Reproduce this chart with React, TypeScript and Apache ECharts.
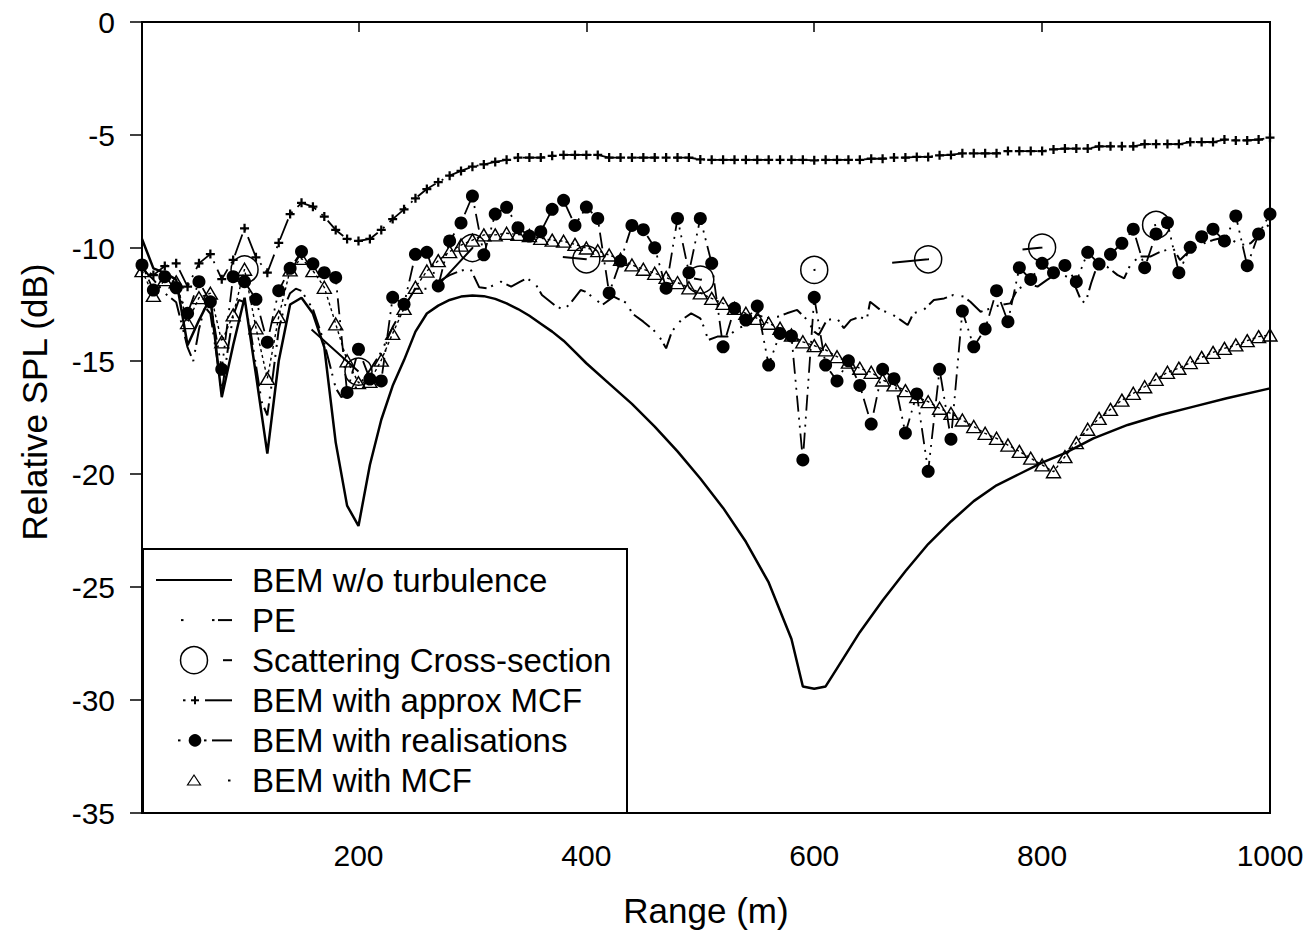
import React, { useEffect, useRef } from "react";
import * as echarts from "echarts";

const FONT = "'Liberation Sans', Arial, Helvetica, sans-serif";

// range values (m) at which the BEM series were sampled
const range10 = [
  10, 20, 30, 40, 50, 60, 70, 80, 90, 100,
  110, 120, 130, 140, 150, 160, 170, 180, 190, 200,
  210, 220, 230, 240, 250, 260, 270, 280, 290, 300,
  310, 320, 330, 340, 350, 360, 370, 380, 390, 400,
  410, 420, 430, 440, 450, 460, 470, 480, 490, 500,
  510, 520, 530, 540, 550, 560, 570, 580, 590, 600,
  610, 620, 630, 640, 650, 660, 670, 680, 690, 700,
  710, 720, 730, 740, 750, 760, 770, 780, 790, 800,
  810, 820, 830, 840, 850, 860, 870, 880, 890, 900,
  910, 920, 930, 940, 950, 960, 970, 980, 990, 1000,
];

const realisations = [
  -10.75, -11.86, -11.27, -11.76, -12.89, -11.49, -12.38, -15.37, -11.27, -11.49,
  -12.27, -14.17, -11.89, -10.9, -10.16, -10.7, -11.09, -11.3, -16.39, -14.48,
  -15.8, -15.88, -12.18, -12.49, -10.28, -10.19, -11.68, -9.69, -8.89, -7.7,
  -10.3, -8.5, -8.2, -9.1, -9.47, -9.28, -8.29, -7.89, -9.0, -8.19,
  -8.69, -11.99, -10.58, -9.0, -9.19, -9.99, -11.78, -8.69, -11.09, -8.69,
  -10.68, -14.37, -12.67, -13.19, -12.57, -15.18, -13.78, -13.89, -19.38, -12.18,
  -15.18, -15.88, -14.99, -16.08, -17.79, -15.37, -15.78, -18.19, -16.46, -19.88,
  -15.37, -18.46, -12.79, -14.37, -13.58, -11.89, -13.26, -10.87, -11.39, -10.68,
  -11.09, -10.77, -11.49, -10.19, -10.71, -10.28, -9.79, -9.17, -10.87, -9.38,
  -8.88, -11.09, -9.97, -9.5, -9.17, -9.69, -8.58, -10.78, -9.38, -8.5,
];

const withMcf = [
  -11.0, -12.1, -11.4, -11.5, -13.3, -12.2, -12.0, -14.15, -12.96, -10.94,
  -13.53, -15.77, -13.04, -10.97, -10.46, -11.0, -11.74, -13.36, -14.99, -15.96,
  -15.9, -14.96, -13.78, -12.67, -11.74, -11.02, -10.56, -10.16, -9.87, -9.65,
  -9.42, -9.42, -9.35, -9.4, -9.45, -9.57, -9.65, -9.7, -9.84, -10.0,
  -10.12, -10.31, -10.5, -10.75, -10.94, -11.12, -11.3, -11.53, -11.76, -11.99,
  -12.23, -12.45, -12.67, -12.89, -13.11, -13.33, -13.55, -13.85, -14.15, -14.32,
  -14.51, -14.81, -15.05, -15.32, -15.5, -15.84, -16.06, -16.31, -16.58, -16.8,
  -17.09, -17.32, -17.61, -17.9, -18.2, -18.42, -18.72, -19.0, -19.3, -19.6,
  -19.9, -19.23, -18.61, -18.02, -17.54, -17.14, -16.73, -16.43, -16.14, -15.81,
  -15.5, -15.32, -15.07, -14.84, -14.62, -14.44, -14.29, -14.1, -13.92, -13.85,
];

const approxMcf = [
  -10.9, -11.2, -10.8, -10.68, -11.71, -10.68, -10.27, -11.38, -10.53, -9.13,
  -10.41, -11.09, -9.77, -8.5, -8.0, -8.17, -8.61, -9.2, -9.6, -9.69,
  -9.6, -9.2, -8.72, -8.29, -7.8, -7.39, -7.09, -6.8, -6.59, -6.4,
  -6.3, -6.19, -6.1, -6.0, -6.0, -6.0, -5.92, -5.88, -5.88, -5.88,
  -5.88, -6.0, -6.0, -6.0, -6.0, -6.0, -6.0, -6.0, -6.0, -6.08,
  -6.1, -6.1, -6.1, -6.1, -6.1, -6.1, -6.1, -6.1, -6.1, -6.12,
  -6.1, -6.1, -6.1, -6.1, -6.05, -6.05, -6.0, -6.0, -5.97, -5.97,
  -5.9, -5.88, -5.81, -5.81, -5.81, -5.81, -5.71, -5.71, -5.71, -5.71,
  -5.64, -5.6, -5.6, -5.6, -5.5, -5.5, -5.5, -5.5, -5.4, -5.4,
  -5.4, -5.4, -5.31, -5.31, -5.31, -5.2, -5.24, -5.24, -5.2, -5.12,
];

const scatterRange = [100, 200, 300, 400, 500, 600, 700, 800, 900];
const scatterSpl = [-10.95, -15.47, -10.0, -10.5, -11.4, -10.97, -10.5, -9.98, -8.98];

const bemRange = [
  10, 20, 30, 40, 50, 60, 70, 80, 90, 100, 110, 120, 130, 140, 150, 160, 170, 180, 190, 200,
  210, 220, 230, 240, 250, 260, 270, 280, 290, 300, 310, 320, 330, 340, 350, 360, 370, 380, 390, 400,
  420, 440, 460, 480, 500, 520, 540, 560, 580, 590, 600, 610, 620, 640, 660, 680, 700, 720, 740, 760,
  780, 800, 820, 845, 875, 904, 933, 962, 1000,
];
const bemSpl = [
  -9.6, -10.9, -11.1, -11.4, -14.3, -13.2, -12.2, -16.6, -14.3, -12.2, -15.6, -19.1, -15.0, -12.5, -12.2, -12.9, -14.4, -18.6, -21.4, -22.3,
  -19.6, -17.6, -16.1, -14.96, -13.7, -12.9, -12.55, -12.3, -12.15, -12.1, -12.13, -12.25, -12.45, -12.7, -13.0, -13.35, -13.7, -14.1, -14.6, -15.1,
  -16.0, -16.9, -17.9, -19.0, -20.2, -21.5, -23.0, -24.8, -27.3, -29.4, -29.5, -29.4, -28.6, -27.0, -25.6, -24.3, -23.1, -22.1, -21.2, -20.5,
  -20.0, -19.5, -19.08, -18.42, -17.83, -17.39, -17.02, -16.65, -16.21,
];

const peRange = [
  10, 20, 30, 40, 50, 55, 60, 65, 70, 75, 80, 85, 90, 95, 100, 105, 110, 115, 120, 125,
  130, 135, 140, 145, 150, 160, 170, 180, 185, 190, 200, 210, 220, 230, 240, 250, 260, 270, 280, 290,
  298, 306, 313, 325, 334, 342, 348, 356, 361, 372, 380, 386, 395, 399, 407, 414, 424, 436, 440, 450,
  459, 465, 470, 475, 483, 492, 500, 503, 507, 515, 524, 533, 541, 550, 558, 568, 576, 585, 594, 600,
  604, 611, 620, 626, 632, 640, 646, 649, 658, 667, 676, 682, 687, 696, 705, 714, 722, 731, 737, 746,
  755, 763, 772, 778, 787, 796, 804, 813, 822, 828, 834, 838, 843, 848, 857, 866, 872, 878, 886, 895,
  904, 915, 921, 930, 942, 950, 962, 974, 983, 992, 1000,
];
const peSpl = [
  -10.9, -11.4, -12.0, -12.4, -14.4, -15.0, -13.6, -12.6, -12.9, -14.6, -16.4, -14.6, -13.0, -12.3, -12.4, -13.6, -15.2, -16.8, -17.4, -15.6,
  -13.6, -12.6, -12.0, -11.8, -11.9, -12.7, -14.2, -16.2, -16.6, -16.4, -16.1, -15.4, -14.6, -13.5, -12.6, -11.8, -11.8, -11.5, -11.2, -11.0,
  -10.9, -11.74, -11.78, -11.49, -11.71, -11.49, -11.34, -11.64, -12.08, -12.52, -12.74, -12.45, -11.86, -11.93, -12.23, -12.52, -12.15, -12.45, -12.89, -13.26,
  -13.63, -14.0, -14.44, -13.7, -13.2, -12.89, -13.11, -13.48, -14.07, -13.92, -13.92, -13.55, -13.41, -12.96, -13.1, -13.04, -12.89, -12.74, -13.19, -13.7,
  -13.85, -13.19, -13.11, -13.55, -13.19, -13.04, -13.19, -12.38, -12.74, -12.89, -13.19, -13.41, -12.89, -12.74, -12.3, -12.23, -12.08, -12.15, -12.38, -12.82,
  -12.67, -12.52, -12.45, -11.86, -11.56, -11.71, -11.42, -11.12, -11.27, -11.56, -12.3, -12.45, -11.56, -10.83, -10.83, -11.19, -11.34, -10.68, -10.38, -10.38,
  -10.16, -10.01, -10.53, -10.09, -9.79, -9.65, -9.5, -9.87, -9.79, -9.35, -8.91,
];

const xTicks = [200, 400, 600, 800, 1000];
const legendNames = [
  "BEM w/o turbulence",
  "PE",
  "Scattering Cross-section",
  "BEM with approx MCF",
  "BEM with realisations",
  "BEM with MCF",
];

// line dash styles (px)
const peDash = [20, 5, 2, 8, 2, 5];
const scatterDash = [0, 90, 63, 122, 47, 90, 24, 109, 8, 112, 2, 77, 37, 94, 20, 114, 2, 300];
const approxDash = [2, 7, 22, 7];
const realDash = [2, 6, 2, 6, 16, 6];
const mcfDash = [3, 3];

const zip = (xs: number[], ys: number[]) => xs.map((x, i) => [x, ys[i]]);

const PLUS = "path://M3,0L5,0L5,3L8,3L8,5L5,5L5,8L3,8L3,5L0,5L0,3L3,3Z";

function buildGraphics() {
  const left = 143;
  const top = 549;
  const rowY = (i: number) => 580 + i * 40.1;
  const els: any[] = [
    {
      type: "text",
      x: 34,
      y: 402,
      rotation: Math.PI / 2,
      style: {
        text: "Relative SPL (dB)",
        font: `35px ${FONT}`,
        fill: "#000",
        align: "center",
        verticalAlign: "middle",
      },
    },
    {
      type: "rect",
      shape: { x: left, y: top, width: 484, height: 264 },
      style: { fill: "#fff", stroke: "#000", lineWidth: 2 },
      z: 100,
    },
  ];
  legendNames.forEach((n, i) => {
    els.push({
      type: "text",
      x: 252,
      y: rowY(i),
      style: { text: n, font: `33px ${FONT}`, fill: "#000", verticalAlign: "middle", align: "left" },
      z: 101,
    });
  });
  const seg = (x1: number, x2: number, y: number, w = 2) => ({
    type: "line",
    shape: { x1, y1: y, x2, y2: y },
    style: { stroke: "#000", lineWidth: w },
    z: 101,
  });
  els.push(seg(156, 232, rowY(0)));
  els.push(seg(181, 183.5, rowY(1)), seg(212, 214.5, rowY(1)), seg(218, 232, rowY(1)));
  els.push({
    type: "circle",
    shape: { cx: 194, cy: rowY(2), r: 13.5 },
    style: { fill: "none", stroke: "#000", lineWidth: 1.5 },
    z: 101,
  });
  els.push(seg(223, 232, rowY(2)));
  els.push(seg(183, 185.5, rowY(3)), seg(191, 199, rowY(3)), seg(205, 232, rowY(3)));
  els.push({
    type: "line",
    shape: { x1: 195, y1: rowY(3) - 4, x2: 195, y2: rowY(3) + 4 },
    style: { stroke: "#000", lineWidth: 2 },
    z: 101,
  });
  els.push(seg(178, 180.5, rowY(4)), seg(204, 206.5, rowY(4)), seg(212, 232, rowY(4)));
  els.push({
    type: "circle",
    shape: { cx: 195, cy: rowY(4), r: 6.3 },
    style: { fill: "#000", stroke: "none" },
    z: 101,
  });
  const ty = rowY(5);
  els.push({
    type: "polygon",
    shape: { points: [[194, ty - 5.5], [200.5, ty + 4.5], [187.5, ty + 4.5]] },
    style: { fill: "none", stroke: "#000", lineWidth: 1.2 },
    z: 101,
  });
  els.push(seg(228, 230.5, ty));
  return els;
}

export default function App() {
  const ref = useRef<HTMLDivElement>(null);
  useEffect(() => {
    if (!ref.current) return;
    const chart = echarts.init(ref.current, undefined, { renderer: "svg" });
    const black = "#000";
    chart.setOption({
      animation: false,
      backgroundColor: "#fff",
      grid: {
        left: 142,
        right: 40,
        top: 22,
        bottom: 121,
        show: true,
        borderColor: black,
        borderWidth: 2,
        backgroundColor: "transparent",
      },
      xAxis: {
        type: "value",
        min: 10,
        max: 1000,
        name: "Range (m)",
        nameLocation: "middle",
        nameGap: 80,
        nameTextStyle: { fontSize: 35, fontFamily: FONT, color: black },
        axisLine: { show: true, lineStyle: { color: black, width: 2 } },
        axisTick: { show: true, customValues: xTicks, length: 10, lineStyle: { color: black, width: 1.5 } },
        axisLabel: {
          customValues: xTicks,
          fontSize: 30,
          fontFamily: FONT,
          color: black,
          margin: 27,
          formatter: (v: number) => String(v),
        },
        splitLine: { show: false },
      },
      yAxis: {
        type: "value",
        min: -35,
        max: 0,
        interval: 5,
        axisLine: { show: true, lineStyle: { color: black, width: 2 } },
        axisTick: { show: true, length: 12, lineStyle: { color: black, width: 1.5 } },
        axisLabel: { fontSize: 30, fontFamily: FONT, color: black, margin: 27, formatter: (v: number) => String(v) },
        splitLine: { show: false },
      },
      series: [
        {
          name: legendNames[0],
          type: "line",
          data: zip(bemRange, bemSpl),
          showSymbol: false,
          lineStyle: { color: black, width: 2.5 },
          z: 2,
        },
        {
          name: legendNames[1],
          type: "line",
          data: zip(peRange, peSpl),
          showSymbol: false,
          lineStyle: { color: black, width: 2, type: peDash },
          z: 2,
        },
        {
          name: legendNames[2],
          type: "line",
          data: zip(scatterRange, scatterSpl),
          symbol: "circle",
          symbolSize: 27,
          itemStyle: { color: "rgba(0,0,0,0)", borderColor: black, borderWidth: 1.5 },
          lineStyle: { color: black, width: 2, type: scatterDash },
          z: 3,
        },
        {
          name: legendNames[3],
          type: "line",
          data: zip(range10, approxMcf),
          symbol: PLUS,
          symbolSize: 9,
          itemStyle: { color: black },
          lineStyle: { color: black, width: 1.8, type: approxDash },
          z: 3,
        },
        {
          name: legendNames[5],
          type: "line",
          data: zip(range10, withMcf),
          symbol: "triangle",
          symbolSize: [14, 12],
          itemStyle: { color: "rgba(0,0,0,0)", borderColor: black, borderWidth: 1.4 },
          lineStyle: { color: black, width: 1.4, type: mcfDash },
          z: 4,
        },
        {
          name: legendNames[4],
          type: "line",
          data: zip(range10, realisations),
          symbol: "circle",
          symbolSize: 13,
          itemStyle: { color: black },
          lineStyle: { color: black, width: 1.8, type: realDash },
          z: 5,
        },
      ],
      graphic: buildGraphics(),
    });
    return () => chart.dispose();
  }, []);
  return <div ref={ref} style={{ width: 1310, height: 934, position: "absolute", left: 0, top: 0 }} />;
}
